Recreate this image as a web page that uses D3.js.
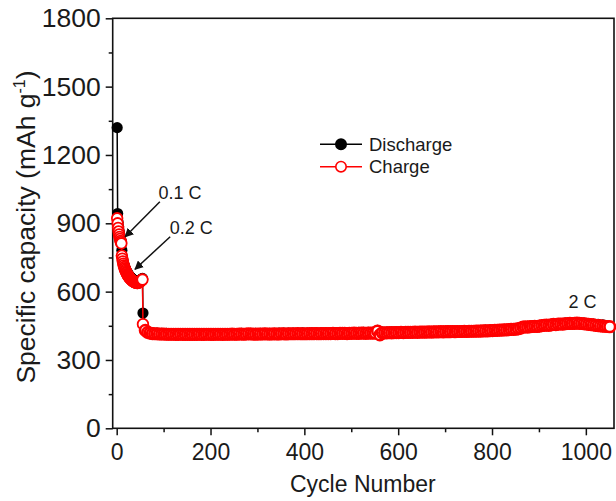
<!DOCTYPE html>
<html>
<head>
<meta charset="utf-8">
<script src="https://cdn.jsdelivr.net/npm/d3@7"></script>
<style>
  body { margin: 0; background: #fff; }
  text { font-family: Arial, "Liberation Sans", sans-serif; fill: #1a1a1a; }
</style>
</head>
<body>
<div id="chart"></div>
<script>
var svgWidth = 616;
var svgHeight = 501;

var margin = { top: 18.3, right: 2, bottom: 72.7, left: 112.7 };
var width = svgWidth - margin.left - margin.right;
var height = svgHeight - margin.top - margin.bottom;

// ---- data ----
// 0.1 C, cycles 1-10
var cycles01 = [1, 2, 3, 4, 5, 6, 7, 8, 9, 10];
var discharge01 = [1320, 943, 905, 885, 868, 855, 845, 835, 826, 818];
var charge01 = [922, 900, 880, 864, 851, 840, 831, 823, 817, 812];

// 0.2 C, cycles 11-55
var start02 = 11;
var discharge02 = [782, 752, 740, 730, 722, 715, 709, 703, 698, 693,
  689, 685, 681, 678, 675, 672, 669, 666, 664, 662,
  660, 658, 656, 654, 652, 651, 650, 649, 648, 647,
  646, 645, 645, 644, 644, 644, 645, 646, 647, 648,
  650, 652, 654, 656, 658];
var charge02 = [758, 745, 733, 723, 715, 708, 702, 696, 691, 686,
  682, 678, 674, 671, 668, 665, 662, 659, 657, 655,
  653, 651, 649, 647, 645, 644, 643, 642, 641, 640,
  639, 639, 638, 638, 638, 639, 640, 641, 642, 644,
  646, 648, 650, 652, 653];

// 2 C, from cycle 56 (charge every 5 cycles, discharge every 10 cycles)
var start2C = 56;
var chargeStep2C = 5;
var charge2C = [457, 430, 421, 418, 416,
  415, 415, 414, 414, 414, 413, 413, 413, 413, 412, 412, 413, 412, 412, 412,
  412, 412, 412, 412, 413, 412, 412, 413, 413, 412, 412, 413, 413, 413, 412, 413, 413, 413, 414, 413,
  413, 414, 414, 413, 414, 415, 414, 414, 413, 414, 414, 414, 415, 414, 414, 414, 415, 414, 414, 415,
  415, 414, 415, 415, 415, 415, 416, 415, 415, 415, 415, 416, 415, 416, 416, 415, 416, 416, 416, 416,
  416, 417, 416, 416, 417, 417, 417, 416, 417, 417, 418, 417, 417, 418, 418, 417, 418, 418, 418, 418,
  427,
  410, 419, 419, 419, 420, 419, 420, 420, 420, 421, 420, 421, 421, 421, 421, 422, 421, 422, 422,
  422, 422, 423, 422, 423, 423, 423, 424, 423, 424, 424, 424, 425, 424, 425, 425, 425, 426, 425, 426,
  426, 426, 427, 427, 427, 428, 428, 428, 429, 429, 430, 430, 431, 431, 432, 432, 433, 434, 434, 435,
  437, 440, 444, 445, 444, 446, 447, 448, 447, 449, 451, 452, 453, 452, 454, 456, 455, 457, 458, 457,
  459, 460, 461, 460, 461, 462, 461, 460, 459, 458, 456, 455, 454, 452, 451, 450, 449, 448, 447, 446];
var dischargeStep2C = 10;
var discharge2C = [506, 424, 419, 418,
  417, 417, 416, 416, 416, 415,
  415, 415, 415, 416, 415, 416, 416, 416, 416, 416,
  416, 417, 416, 417, 417, 417, 417, 417, 417, 418,
  418, 418, 418, 418, 419, 418, 419, 419, 419, 419,
  419, 420, 420, 420, 420, 420, 421, 421, 421, 421,
  430,
  422, 422, 423, 423, 423, 424, 424, 424, 425,
  425, 425, 426, 426, 426, 427, 427, 427, 428, 428,
  429, 429, 430, 431, 431, 432, 433, 434, 435, 437,
  440, 447, 448, 449, 450, 452, 455, 456, 458, 460,
  462, 463, 464, 464, 462, 460, 458, 456, 454, 450];

var xMajor = [0, 200, 400, 600, 800, 1000];
var xMinor = [100, 300, 500, 700, 900];
var yMajor = [0, 300, 600, 900, 1200, 1500, 1800];
var yMinor = [150, 450, 750, 1050, 1350, 1650];

// build series
function toPoints(cycles, values) {
  return values.map(function (v, i) { return { c: cycles[i], v: v }; });
}
function fromStart(start, step, values) {
  return values.map(function (v, i) { return { c: start + step * i, v: v }; });
}
var dischargeData = toPoints(cycles01, discharge01)
  .concat(fromStart(start02, 1, discharge02))
  .concat(fromStart(start2C, dischargeStep2C, discharge2C));
var chargeData = toPoints(cycles01, charge01)
  .concat(fromStart(start02, 1, charge02))
  .concat(fromStart(start2C, chargeStep2C, charge2C));

var svg = d3.select("#chart")
  .append("svg")
  .attr("width", svgWidth)
  .attr("height", svgHeight);

var defs = svg.append("defs");
defs.append("marker")
  .attr("id", "arrow")
  .attr("viewBox", "0 0 10 10")
  .attr("refX", 9)
  .attr("refY", 5)
  .attr("markerWidth", 9)
  .attr("markerHeight", 9)
  .attr("markerUnits", "userSpaceOnUse")
  .attr("orient", "auto")
  .append("path")
  .attr("d", "M0,0 L10,5 L0,10 z")
  .attr("fill", "#111");

var chartGroup = svg.append("g")
  .attr("transform", `translate(${margin.left}, ${margin.top})`);

var x = d3.scaleLinear().domain([-8.5, 1060]).range([0, width]);
var y = d3.scaleLinear().domain([0, 1800]).range([height, 0]);

// axes
function styleAxis(size) {
  return function (g) {
    g.select(".domain").remove();
    g.selectAll(".tick line").attr("stroke", "#111").attr("stroke-width", 1.5);
    g.selectAll(".tick text").attr("font-size", size).attr("fill", "#1a1a1a")
      .attr("font-family", "Arial, 'Liberation Sans', sans-serif");
  };
}

chartGroup.append("g")
  .attr("transform", `translate(0, ${height})`)
  .call(d3.axisBottom(x).tickValues(xMajor).tickSize(7).tickPadding(8).tickFormat(d3.format("d")))
  .call(styleAxis(23));
chartGroup.append("g")
  .attr("transform", `translate(0, ${height})`)
  .call(d3.axisBottom(x).tickValues(xMinor).tickSize(4).tickFormat(""))
  .call(styleAxis(23));

chartGroup.append("g")
  .call(d3.axisLeft(y).tickValues(yMajor).tickSize(7).tickPadding(5).tickFormat(d3.format("d")))
  .call(styleAxis(26.5));
chartGroup.append("g")
  .call(d3.axisLeft(y).tickValues(yMinor).tickSize(4).tickFormat(""))
  .call(styleAxis(26.5));

// frame
chartGroup.append("rect")
  .attr("x", 0).attr("y", 0)
  .attr("width", width).attr("height", height)
  .attr("fill", "none")
  .attr("stroke", "#111")
  .attr("stroke-width", 1.6);

// series
var line = d3.line().x(d => x(d.c)).y(d => y(d.v));

chartGroup.append("path")
  .datum(dischargeData)
  .attr("d", line)
  .attr("fill", "none")
  .attr("stroke", "#000")
  .attr("stroke-width", 1.5);

chartGroup.append("g").selectAll("circle")
  .data(dischargeData)
  .enter()
  .append("circle")
  .attr("cx", d => x(d.c))
  .attr("cy", d => y(d.v))
  .attr("r", 5.6)
  .attr("fill", "#000");

chartGroup.append("path")
  .datum(chargeData)
  .attr("d", line)
  .attr("fill", "none")
  .attr("stroke", "#f00")
  .attr("stroke-width", 1.5);

chartGroup.append("g").selectAll("circle")
  .data(chargeData)
  .enter()
  .append("circle")
  .attr("cx", d => x(d.c))
  .attr("cy", d => y(d.v))
  .attr("r", 5.3)
  .attr("fill", "#fff")
  .attr("stroke", "#f00")
  .attr("stroke-width", d => d.c >= start2C + chargeStep2C ? 2.6 : 1.8);

// annotations
var notes = [
  { label: "0.1 C", tx: 89, ty: 1006, from: [92, 995], to: [18, 841] },
  { label: "0.2 C", tx: 113, ty: 853, from: [114, 841], to: [39, 698] },
  { label: "2 C", tx: 963, ty: 527 }
];
notes.forEach(function (n) {
  chartGroup.append("text")
    .attr("x", x(n.tx))
    .attr("y", y(n.ty))
    .attr("font-size", 18)
    .text(n.label);
  if (n.from) {
    chartGroup.append("line")
      .attr("x1", x(n.from[0])).attr("y1", y(n.from[1]))
      .attr("x2", x(n.to[0])).attr("y2", y(n.to[1]))
      .attr("stroke", "#111")
      .attr("stroke-width", 1.5)
      .attr("marker-end", "url(#arrow)");
  }
});

// legend
var legendItems = [
  { label: "Discharge", stroke: "#000", fill: "#000" },
  { label: "Charge", stroke: "#f00", fill: "#fff" }
];
var legend = svg.append("g").attr("transform", "translate(320, 144.3)");
legendItems.forEach(function (d, i) {
  var row = legend.append("g").attr("transform", `translate(0, ${i * 22.4})`);
  row.append("line")
    .attr("x1", 0).attr("x2", 42)
    .attr("stroke", d.stroke)
    .attr("stroke-width", 1.5);
  row.append("circle")
    .attr("cx", 21).attr("cy", 0).attr("r", 5.2)
    .attr("fill", d.fill)
    .attr("stroke", d.stroke)
    .attr("stroke-width", 1.6);
  row.append("text")
    .attr("x", 49).attr("y", 0).attr("dy", "0.36em")
    .attr("font-size", 18.5)
    .text(d.label);
});

// axis titles
svg.append("text")
  .attr("x", margin.left + width / 2 - 0.5)
  .attr("y", 491.5)
  .attr("text-anchor", "middle")
  .attr("font-size", 23)
  .text("Cycle Number");

var yTitle = svg.append("text")
  .attr("transform", "translate(35, 227) rotate(-90)")
  .attr("text-anchor", "middle")
  .attr("font-size", 26.5);
yTitle.append("tspan").text("Specific capacity (mAh g");
yTitle.append("tspan").attr("dy", -10).attr("font-size", 16).text("-1");
yTitle.append("tspan").attr("dy", 10).text(")");
</script>
</body>
</html>
